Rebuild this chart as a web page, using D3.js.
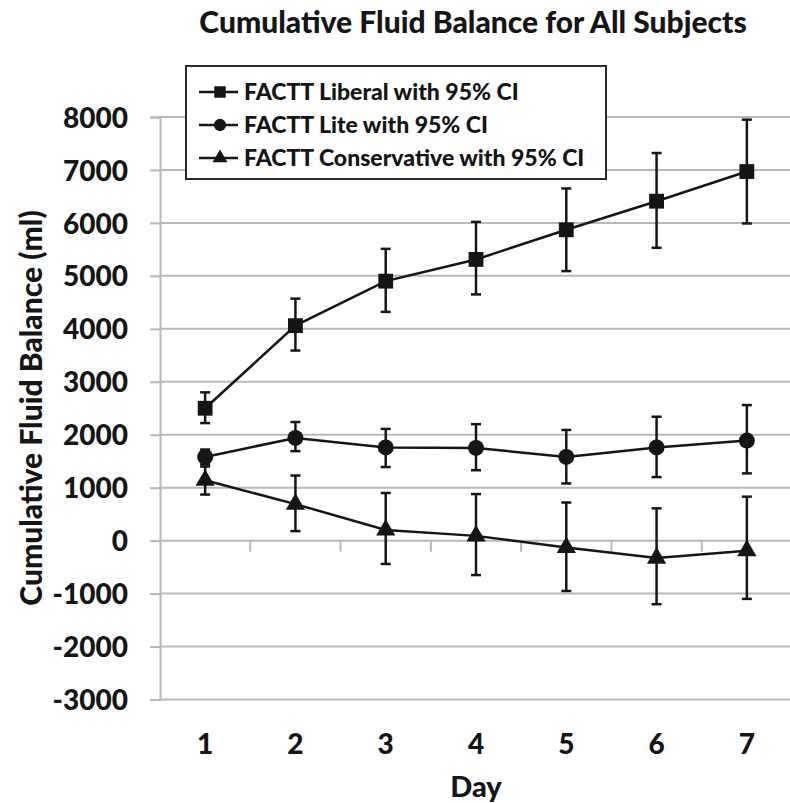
<!DOCTYPE html>
<html>
<head>
<meta charset="utf-8">
<script src="https://cdn.jsdelivr.net/npm/d3@7"></script>
<style>
  html, body { margin: 0; padding: 0; background: #fff; }
  svg { display: block; font-family: Lato, "Open Sans", sans-serif; font-weight: 900; }
</style>
</head>
<body>
<svg id="chart" width="790" height="803"></svg>
<script>
// Study days on the horizontal axis
const days = [1, 2, 3, 4, 5, 6, 7];

// Mean cumulative fluid balance (ml) and 95% CI bounds per arm
const liberalMean  = [2500, 4060, 4900, 5310, 5870, 6410, 6970];
const liberalLow   = [2220, 3590, 4320, 4650, 5090, 5530, 5990];
const liberalHigh  = [2800, 4570, 5510, 6020, 6650, 7320, 7950];

const liteMean     = [1580, 1940, 1760, 1750, 1580, 1760, 1890];
const liteLow      = [1440, 1690, 1390, 1330, 1080, 1200, 1270];
const liteHigh     = [1720, 2240, 2110, 2200, 2090, 2340, 2560];

const consMean     = [1140, 690, 200, 90, -130, -330, -190];
const consLow      = [870, 180, -440, -650, -950, -1200, -1100];
const consHigh     = [1400, 1230, 900, 880, 720, 610, 830];

// Axis ticks
const yTicks = [-3000, -2000, -1000, 0, 1000, 2000, 3000, 4000, 5000, 6000, 7000, 8000];

const seriesNames = [
  "FACTT Liberal with 95% CI",
  "FACTT Lite with 95% CI",
  "FACTT Conservative with 95% CI"
];
const seriesShapes = [d3.symbolSquare, d3.symbolCircle, d3.symbolTriangle];
const seriesSizes = [220, 200, 160];

const series = [
  { name: seriesNames[0], mean: liberalMean, low: liberalLow, high: liberalHigh, shape: seriesShapes[0], size: seriesSizes[0] },
  { name: seriesNames[1], mean: liteMean, low: liteLow, high: liteHigh, shape: seriesShapes[1], size: seriesSizes[1] },
  { name: seriesNames[2], mean: consMean, low: consLow, high: consHigh, shape: seriesShapes[2], size: seriesSizes[2] }
];

const svg = d3.select("#chart");
const plot = { left: 160, right: 792, top: 117, bottom: 699.5 };
const ink = "#151515";
const gridColor = "#b8b8b8";

const x = d3.scaleBand().domain(days).range([plot.left, plot.right]).paddingInner(0).paddingOuter(0);
const xc = d => x(d) + x.bandwidth() / 2;
const y = d3.scaleLinear().domain([-3000, 8000]).range([plot.bottom, plot.top]);

// Horizontal gridlines
svg.append("g")
  .selectAll("line")
  .data(yTicks)
  .join("line")
  .attr("x1", plot.left).attr("x2", plot.right)
  .attr("y1", d => y(d)).attr("y2", d => y(d))
  .attr("stroke", gridColor).attr("stroke-width", 2);

// Vertical value axis with ticks and labels (plain hyphen for negatives)
const yAxis = d3.axisLeft(y).tickValues(yTicks).tickSize(10).tickPadding(22).tickFormat(d => String(d));
const yg = svg.append("g").attr("transform", `translate(${plot.left},0)`).call(yAxis);
yg.select(".domain").attr("stroke", gridColor).attr("stroke-width", 2);
yg.selectAll(".tick line").attr("stroke", gridColor).attr("stroke-width", 2);
yg.selectAll(".tick text")
  .attr("fill", ink).attr("font-size", 28).attr("font-weight", 900)
  .attr("font-family", "Lato, sans-serif").attr("dy", "0.36em");

// Category axis drawn along the zero line, tick marks at category boundaries
const zeroY = y(0);
svg.append("g")
  .selectAll("line")
  .data(days)
  .join("line")
  .attr("x1", d => x(d) + x.bandwidth()).attr("x2", d => x(d) + x.bandwidth())
  .attr("y1", zeroY).attr("y2", zeroY + 11)
  .attr("stroke", gridColor).attr("stroke-width", 2);

// Day labels below the plot area
svg.append("g")
  .selectAll("text")
  .data(days)
  .join("text")
  .attr("x", d => xc(d)).attr("y", 744)
  .attr("dy", "0.36em")
  .attr("text-anchor", "middle")
  .attr("font-size", 28).attr("fill", ink)
  .text(d => d);

// Axis titles and chart title
svg.append("text")
  .attr("x", (plot.left + plot.right) / 2).attr("y", 787).attr("dy", "0.36em")
  .attr("text-anchor", "middle").attr("font-size", 29).attr("fill", ink)
  .text("Day");

svg.append("text")
  .attr("transform", "translate(31,408) rotate(-90)")
  .attr("dy", "0.36em")
  .attr("text-anchor", "middle").attr("font-size", 30).attr("fill", ink)
  .text("Cumulative Fluid Balance (ml)");

svg.append("text")
  .attr("x", 473).attr("y", 22).attr("dy", "0.36em")
  .attr("text-anchor", "middle").attr("font-size", 30).attr("fill", ink)
  .text("Cumulative Fluid Balance for All Subjects");

// Series: error bars, connecting line, markers
const line = d3.line().x(d => xc(d.day)).y(d => y(d.v));
const capHalf = 5;

series.forEach(s => {
  const pts = days.map((day, i) => ({ day, v: s.mean[i], lo: s.low[i], hi: s.high[i] }));
  const g = svg.append("g");

  const eb = g.append("g").attr("stroke", ink).attr("stroke-width", 2.5);
  eb.selectAll(".stem").data(pts).join("line").attr("class", "stem")
    .attr("x1", d => xc(d.day)).attr("x2", d => xc(d.day))
    .attr("y1", d => y(d.lo)).attr("y2", d => y(d.hi));
  eb.selectAll(".capHi").data(pts).join("line").attr("class", "capHi")
    .attr("x1", d => xc(d.day) - capHalf).attr("x2", d => xc(d.day) + capHalf)
    .attr("y1", d => y(d.hi)).attr("y2", d => y(d.hi));
  eb.selectAll(".capLo").data(pts).join("line").attr("class", "capLo")
    .attr("x1", d => xc(d.day) - capHalf).attr("x2", d => xc(d.day) + capHalf)
    .attr("y1", d => y(d.lo)).attr("y2", d => y(d.lo));

  g.append("path").datum(pts)
    .attr("d", line).attr("fill", "none")
    .attr("stroke", ink).attr("stroke-width", 2.5);

  g.selectAll(".marker").data(pts).join("path").attr("class", "marker")
    .attr("transform", d => `translate(${xc(d.day)},${y(d.v)})`)
    .attr("d", d3.symbol().type(s.shape).size(s.size))
    .attr("fill", ink);
});

// Legend
const legend = svg.append("g");
legend.append("rect")
  .attr("x", 186).attr("y", 66).attr("width", 420).attr("height", 113)
  .attr("fill", "#fff").attr("stroke", "#2a2a2a").attr("stroke-width", 2);

const legendRowY = d3.scalePoint().domain(seriesNames).range([92, 158]);
series.forEach((s, i) => {
  const ry = legendRowY(s.name);
  legend.append("line")
    .attr("x1", 199).attr("x2", 238).attr("y1", ry).attr("y2", ry)
    .attr("stroke", ink).attr("stroke-width", 2.5);
  legend.append("path")
    .attr("transform", `translate(220,${ry})`)
    .attr("d", d3.symbol().type(s.shape).size(s.size * 0.6))
    .attr("fill", ink);
  legend.append("text")
    .attr("x", 244).attr("y", ry).attr("dy", "0.36em")
    .attr("font-size", 23).attr("fill", ink)
    .text(s.name);
});
</script>
</body>
</html>
